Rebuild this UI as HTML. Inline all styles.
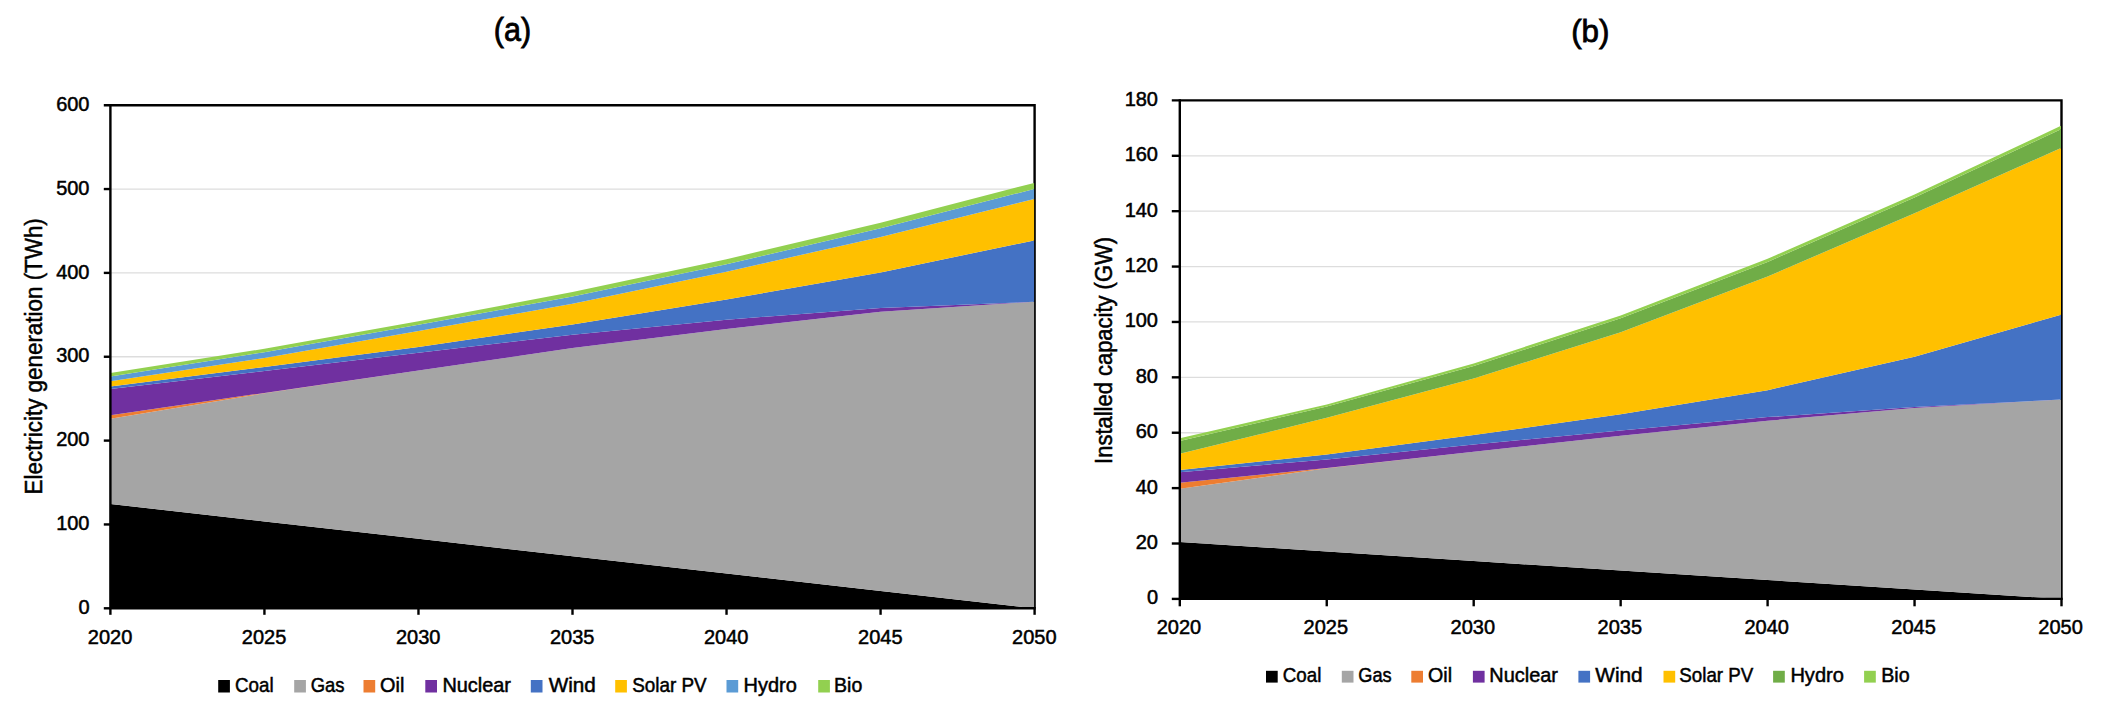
<!DOCTYPE html>
<html lang="en">
<head>
<meta charset="utf-8">
<title>Electricity generation and installed capacity</title>
<style>
html,body{margin:0;padding:0;background:#fff;}
body{width:2104px;height:710px;overflow:hidden;}
svg{display:block;}
</style>
</head>
<body>
<svg width="2104" height="710" viewBox="0 0 2104 710" font-family='"Liberation Sans", sans-serif' fill="#000" stroke="none">
<rect width="2104" height="710" fill="#fff"/>
<line x1="110.4" x2="1034.6" y1="189.05" y2="189.05" stroke="#dddddd" stroke-width="1.3"/>
<line x1="110.4" x2="1034.6" y1="272.90" y2="272.90" stroke="#dddddd" stroke-width="1.3"/>
<line x1="110.4" x2="1034.6" y1="356.75" y2="356.75" stroke="#dddddd" stroke-width="1.3"/>
<line x1="110.4" x2="1034.6" y1="440.60" y2="440.60" stroke="#dddddd" stroke-width="1.3"/>
<line x1="110.4" x2="1034.6" y1="524.45" y2="524.45" stroke="#dddddd" stroke-width="1.3"/>
<path d="M103.8 105.2 H1034.6 V608.3" stroke="#000" stroke-width="2.4" fill="none"/>
<polygon points="110.4,504.0 264.4,521.4 418.5,538.8 572.5,556.2 726.5,573.5 880.6,590.9 1034.1,608.3 1034.1,608.3 880.6,608.3 726.5,608.3 572.5,608.3 418.5,608.3 264.4,608.3 110.4,608.3" fill="#000000"/>
<polygon points="110.4,418.7 264.4,393.3 418.5,370.5 572.5,348.1 726.5,328.9 880.6,311.7 1034.1,301.8 1034.1,608.3 880.6,590.9 726.5,573.5 572.5,556.2 418.5,538.8 264.4,521.4 110.4,504.0" fill="#a5a5a5"/>
<polygon points="110.4,415.2 264.4,392.9 418.5,370.5 572.5,348.1 726.5,328.9 880.6,311.7 1034.1,301.8 1034.1,301.8 880.6,311.7 726.5,328.9 572.5,348.1 418.5,370.5 264.4,393.3 110.4,418.7" fill="#ed7d31"/>
<polygon points="110.4,389.1 264.4,371.0 418.5,352.8 572.5,334.8 726.5,319.7 880.6,308.0 1034.1,301.8 1034.1,301.8 880.6,311.7 726.5,328.9 572.5,348.1 418.5,370.5 264.4,392.9 110.4,415.2" fill="#7030a0"/>
<polygon points="110.4,386.6 264.4,367.0 418.5,346.9 572.5,324.4 726.5,299.5 880.6,272.4 1034.1,240.4 1034.1,301.8 880.6,308.0 726.5,319.7 572.5,334.8 418.5,352.8 264.4,371.0 110.4,389.1" fill="#4472c4"/>
<polygon points="110.4,381.3 264.4,357.9 418.5,331.1 572.5,303.7 726.5,271.7 880.6,237.0 1034.1,199.0 1034.1,240.4 880.6,272.4 726.5,299.5 572.5,324.4 418.5,346.9 264.4,367.0 110.4,386.6" fill="#ffc000"/>
<polygon points="110.4,376.4 264.4,352.2 418.5,324.7 572.5,296.6 726.5,264.2 880.6,228.3 1034.1,189.0 1034.1,199.0 880.6,237.0 726.5,271.7 572.5,303.7 418.5,331.1 264.4,357.9 110.4,381.3" fill="#5b9bd5"/>
<polygon points="110.4,372.9 264.4,348.8 418.5,321.3 572.5,292.1 726.5,259.2 880.6,222.8 1034.1,182.9 1034.1,189.0 880.6,228.3 726.5,264.2 572.5,296.6 418.5,324.7 264.4,352.2 110.4,376.4" fill="#92d050"/>
<g stroke="#000" stroke-width="2.4" fill="none" stroke-linecap="butt">
<path d="M110.4 104.0 V608.3 H1035.8"/>
<line x1="103.8" x2="110.4" y1="189.05" y2="189.05"/>
<line x1="103.8" x2="110.4" y1="272.90" y2="272.90"/>
<line x1="103.8" x2="110.4" y1="356.75" y2="356.75"/>
<line x1="103.8" x2="110.4" y1="440.60" y2="440.60"/>
<line x1="103.8" x2="110.4" y1="524.45" y2="524.45"/>
<line x1="103.8" x2="110.4" y1="608.30" y2="608.30"/>
<line x1="110.40" x2="110.40" y1="608.3" y2="614.8"/>
<line x1="264.43" x2="264.43" y1="608.3" y2="614.8"/>
<line x1="418.47" x2="418.47" y1="608.3" y2="614.8"/>
<line x1="572.50" x2="572.50" y1="608.3" y2="614.8"/>
<line x1="726.53" x2="726.53" y1="608.3" y2="614.8"/>
<line x1="880.57" x2="880.57" y1="608.3" y2="614.8"/>
<line x1="1034.60" x2="1034.60" y1="608.3" y2="614.8"/>
</g>
<text x="89.5" y="110.8" font-size="20" text-anchor="end" stroke="#000" stroke-width="0.5">600</text>
<text x="89.5" y="194.7" font-size="20" text-anchor="end" stroke="#000" stroke-width="0.5">500</text>
<text x="89.5" y="278.5" font-size="20" text-anchor="end" stroke="#000" stroke-width="0.5">400</text>
<text x="89.5" y="362.4" font-size="20" text-anchor="end" stroke="#000" stroke-width="0.5">300</text>
<text x="89.5" y="446.2" font-size="20" text-anchor="end" stroke="#000" stroke-width="0.5">200</text>
<text x="89.5" y="530.1" font-size="20" text-anchor="end" stroke="#000" stroke-width="0.5">100</text>
<text x="89.5" y="613.9" font-size="20" text-anchor="end" stroke="#000" stroke-width="0.5">0</text>
<text x="110.1" y="644.0" font-size="20" text-anchor="middle" stroke="#000" stroke-width="0.5">2020</text>
<text x="264.1" y="644.0" font-size="20" text-anchor="middle" stroke="#000" stroke-width="0.5">2025</text>
<text x="418.2" y="644.0" font-size="20" text-anchor="middle" stroke="#000" stroke-width="0.5">2030</text>
<text x="572.2" y="644.0" font-size="20" text-anchor="middle" stroke="#000" stroke-width="0.5">2035</text>
<text x="726.2" y="644.0" font-size="20" text-anchor="middle" stroke="#000" stroke-width="0.5">2040</text>
<text x="880.3" y="644.0" font-size="20" text-anchor="middle" stroke="#000" stroke-width="0.5">2045</text>
<text x="1034.3" y="644.0" font-size="20" text-anchor="middle" stroke="#000" stroke-width="0.5">2050</text>
<line x1="1179.8" x2="2061.5" y1="155.79" y2="155.79" stroke="#dddddd" stroke-width="1.3"/>
<line x1="1179.8" x2="2061.5" y1="211.18" y2="211.18" stroke="#dddddd" stroke-width="1.3"/>
<line x1="1179.8" x2="2061.5" y1="266.57" y2="266.57" stroke="#dddddd" stroke-width="1.3"/>
<line x1="1179.8" x2="2061.5" y1="321.96" y2="321.96" stroke="#dddddd" stroke-width="1.3"/>
<line x1="1179.8" x2="2061.5" y1="377.34" y2="377.34" stroke="#dddddd" stroke-width="1.3"/>
<line x1="1179.8" x2="2061.5" y1="432.73" y2="432.73" stroke="#dddddd" stroke-width="1.3"/>
<line x1="1179.8" x2="2061.5" y1="488.12" y2="488.12" stroke="#dddddd" stroke-width="1.3"/>
<line x1="1179.8" x2="2061.5" y1="543.51" y2="543.51" stroke="#dddddd" stroke-width="1.3"/>
<path d="M1171.8 100.4 H2061.5 V598.9" stroke="#000" stroke-width="2.4" fill="none"/>
<polygon points="1179.8,542.0 1326.8,551.5 1473.7,561.0 1620.7,570.5 1767.6,580.0 1914.5,589.5 2061.0,598.9 2061.0,598.9 1914.5,598.9 1767.6,598.9 1620.7,598.9 1473.7,598.9 1326.8,598.9 1179.8,598.9" fill="#000000"/>
<polygon points="1179.8,488.8 1326.8,468.2 1473.7,451.8 1620.7,435.7 1767.6,420.7 1914.5,408.0 2061.0,399.5 2061.0,598.9 1914.5,589.5 1767.6,580.0 1620.7,570.5 1473.7,561.0 1326.8,551.5 1179.8,542.0" fill="#a5a5a5"/>
<polygon points="1179.8,482.8 1326.8,468.0 1473.7,451.8 1620.7,435.7 1767.6,420.7 1914.5,408.0 2061.0,399.5 2061.0,399.5 1914.5,408.0 1767.6,420.7 1620.7,435.7 1473.7,451.8 1326.8,468.2 1179.8,488.8" fill="#ed7d31"/>
<polygon points="1179.8,472.2 1326.8,459.4 1473.7,444.5 1620.7,430.4 1767.6,417.1 1914.5,407.1 2061.0,399.5 2061.0,399.5 1914.5,408.0 1767.6,420.7 1620.7,435.7 1473.7,451.8 1326.8,468.0 1179.8,482.8" fill="#7030a0"/>
<polygon points="1179.8,469.9 1326.8,454.4 1473.7,435.1 1620.7,414.3 1767.6,390.2 1914.5,356.7 2061.0,314.8 2061.0,399.5 1914.5,407.1 1767.6,417.1 1620.7,430.4 1473.7,444.5 1326.8,459.4 1179.8,472.2" fill="#4472c4"/>
<polygon points="1179.8,453.7 1326.8,417.8 1473.7,378.4 1620.7,332.3 1767.6,276.5 1914.5,213.2 2061.0,148.0 2061.0,314.8 1914.5,356.7 1767.6,390.2 1620.7,414.3 1473.7,435.1 1326.8,454.4 1179.8,469.9" fill="#ffc000"/>
<polygon points="1179.8,440.9 1326.8,406.6 1473.7,366.1 1620.7,318.2 1767.6,261.9 1914.5,197.6 2061.0,129.2 2061.0,148.0 1914.5,213.2 1767.6,276.5 1620.7,332.3 1473.7,378.4 1326.8,417.8 1179.8,453.7" fill="#70ad47"/>
<polygon points="1179.8,438.3 1326.8,404.4 1473.7,363.5 1620.7,315.5 1767.6,258.8 1914.5,194.4 2061.0,125.8 2061.0,129.2 1914.5,197.6 1767.6,261.9 1620.7,318.2 1473.7,366.1 1326.8,406.6 1179.8,440.9" fill="#92d050"/>
<g stroke="#000" stroke-width="2.4" fill="none" stroke-linecap="butt">
<path d="M1179.8 99.2 V598.9 H2062.7"/>
<line x1="1171.8" x2="1179.8" y1="155.79" y2="155.79"/>
<line x1="1171.8" x2="1179.8" y1="211.18" y2="211.18"/>
<line x1="1171.8" x2="1179.8" y1="266.57" y2="266.57"/>
<line x1="1171.8" x2="1179.8" y1="321.96" y2="321.96"/>
<line x1="1171.8" x2="1179.8" y1="377.34" y2="377.34"/>
<line x1="1171.8" x2="1179.8" y1="432.73" y2="432.73"/>
<line x1="1171.8" x2="1179.8" y1="488.12" y2="488.12"/>
<line x1="1171.8" x2="1179.8" y1="543.51" y2="543.51"/>
<line x1="1171.8" x2="1179.8" y1="598.90" y2="598.90"/>
<line x1="1179.80" x2="1179.80" y1="598.9" y2="606.3"/>
<line x1="1326.75" x2="1326.75" y1="598.9" y2="606.3"/>
<line x1="1473.70" x2="1473.70" y1="598.9" y2="606.3"/>
<line x1="1620.65" x2="1620.65" y1="598.9" y2="606.3"/>
<line x1="1767.60" x2="1767.60" y1="598.9" y2="606.3"/>
<line x1="1914.55" x2="1914.55" y1="598.9" y2="606.3"/>
<line x1="2061.50" x2="2061.50" y1="598.9" y2="606.3"/>
</g>
<text x="1158.0" y="105.8" font-size="20" text-anchor="end" stroke="#000" stroke-width="0.5">180</text>
<text x="1158.0" y="161.2" font-size="20" text-anchor="end" stroke="#000" stroke-width="0.5">160</text>
<text x="1158.0" y="216.6" font-size="20" text-anchor="end" stroke="#000" stroke-width="0.5">140</text>
<text x="1158.0" y="272.0" font-size="20" text-anchor="end" stroke="#000" stroke-width="0.5">120</text>
<text x="1158.0" y="327.4" font-size="20" text-anchor="end" stroke="#000" stroke-width="0.5">100</text>
<text x="1158.0" y="382.7" font-size="20" text-anchor="end" stroke="#000" stroke-width="0.5">80</text>
<text x="1158.0" y="438.1" font-size="20" text-anchor="end" stroke="#000" stroke-width="0.5">60</text>
<text x="1158.0" y="493.5" font-size="20" text-anchor="end" stroke="#000" stroke-width="0.5">40</text>
<text x="1158.0" y="548.9" font-size="20" text-anchor="end" stroke="#000" stroke-width="0.5">20</text>
<text x="1158.0" y="604.3" font-size="20" text-anchor="end" stroke="#000" stroke-width="0.5">0</text>
<text x="1178.9" y="633.5" font-size="20" text-anchor="middle" stroke="#000" stroke-width="0.5">2020</text>
<text x="1325.8" y="633.5" font-size="20" text-anchor="middle" stroke="#000" stroke-width="0.5">2025</text>
<text x="1472.8" y="633.5" font-size="20" text-anchor="middle" stroke="#000" stroke-width="0.5">2030</text>
<text x="1619.8" y="633.5" font-size="20" text-anchor="middle" stroke="#000" stroke-width="0.5">2035</text>
<text x="1766.7" y="633.5" font-size="20" text-anchor="middle" stroke="#000" stroke-width="0.5">2040</text>
<text x="1913.6" y="633.5" font-size="20" text-anchor="middle" stroke="#000" stroke-width="0.5">2045</text>
<text x="2060.6" y="633.5" font-size="20" text-anchor="middle" stroke="#000" stroke-width="0.5">2050</text>
<text x="512.5" y="41.2" font-size="32.6" text-anchor="middle" stroke="#000" stroke-width="0.8" textLength="37.3" lengthAdjust="spacingAndGlyphs">(a)</text>
<text x="1590.3" y="41.8" font-size="32" text-anchor="middle" stroke="#000" stroke-width="0.8" textLength="38.3" lengthAdjust="spacingAndGlyphs">(b)</text>
<text transform="translate(41.8 494.4) rotate(-90)" font-size="23" stroke="#000" stroke-width="0.5" textLength="276.2" lengthAdjust="spacingAndGlyphs">Electricity generation (TWh)</text>
<text transform="translate(1111.6 463.9) rotate(-90)" font-size="23" stroke="#000" stroke-width="0.5" textLength="226.9" lengthAdjust="spacingAndGlyphs">Installed capacity (GW)</text>
<rect x="218.2" y="680.0" width="11.7" height="12.5" fill="#000000"/>
<text x="235.0" y="691.5" font-size="20.6" text-anchor="start" stroke="#000" stroke-width="0.5" textLength="38.6" lengthAdjust="spacingAndGlyphs">Coal</text>
<rect x="294.2" y="680.0" width="11.7" height="12.5" fill="#a5a5a5"/>
<text x="310.7" y="691.5" font-size="20.6" text-anchor="start" stroke="#000" stroke-width="0.5" textLength="33.8" lengthAdjust="spacingAndGlyphs">Gas</text>
<rect x="363.5" y="680.0" width="11.7" height="12.5" fill="#ed7d31"/>
<text x="380.1" y="691.5" font-size="20.6" text-anchor="start" stroke="#000" stroke-width="0.5" textLength="24.3" lengthAdjust="spacingAndGlyphs">Oil</text>
<rect x="425.3" y="680.0" width="11.7" height="12.5" fill="#7030a0"/>
<text x="442.4" y="691.5" font-size="20.6" text-anchor="start" stroke="#000" stroke-width="0.5" textLength="68.6" lengthAdjust="spacingAndGlyphs">Nuclear</text>
<rect x="530.8" y="680.0" width="11.7" height="12.5" fill="#4472c4"/>
<text x="548.7" y="691.5" font-size="20.6" text-anchor="start" stroke="#000" stroke-width="0.5" textLength="47.2" lengthAdjust="spacingAndGlyphs">Wind</text>
<rect x="615.2" y="680.0" width="11.7" height="12.5" fill="#ffc000"/>
<text x="632.2" y="691.5" font-size="20.6" text-anchor="start" stroke="#000" stroke-width="0.5" textLength="74.5" lengthAdjust="spacingAndGlyphs">Solar PV</text>
<rect x="726.5" y="680.0" width="11.7" height="12.5" fill="#5b9bd5"/>
<text x="743.6" y="691.5" font-size="20.6" text-anchor="start" stroke="#000" stroke-width="0.5" textLength="53.3" lengthAdjust="spacingAndGlyphs">Hydro</text>
<rect x="818.2" y="680.0" width="11.7" height="12.5" fill="#92d050"/>
<text x="834.1" y="691.5" font-size="20.6" text-anchor="start" stroke="#000" stroke-width="0.5" textLength="28.2" lengthAdjust="spacingAndGlyphs">Bio</text>
<rect x="1266.0" y="670.8" width="11.7" height="11.8" fill="#000000"/>
<text x="1282.8" y="682.3" font-size="20.6" text-anchor="start" stroke="#000" stroke-width="0.5" textLength="38.5" lengthAdjust="spacingAndGlyphs">Coal</text>
<rect x="1341.8" y="670.8" width="11.7" height="11.8" fill="#a5a5a5"/>
<text x="1358.3" y="682.3" font-size="20.6" text-anchor="start" stroke="#000" stroke-width="0.5" textLength="33.4" lengthAdjust="spacingAndGlyphs">Gas</text>
<rect x="1411.3" y="670.8" width="11.7" height="11.8" fill="#ed7d31"/>
<text x="1428.0" y="682.3" font-size="20.6" text-anchor="start" stroke="#000" stroke-width="0.5" textLength="24.0" lengthAdjust="spacingAndGlyphs">Oil</text>
<rect x="1472.9" y="670.8" width="11.7" height="11.8" fill="#7030a0"/>
<text x="1489.3" y="682.3" font-size="20.6" text-anchor="start" stroke="#000" stroke-width="0.5" textLength="68.7" lengthAdjust="spacingAndGlyphs">Nuclear</text>
<rect x="1578.4" y="670.8" width="11.7" height="11.8" fill="#4472c4"/>
<text x="1595.3" y="682.3" font-size="20.6" text-anchor="start" stroke="#000" stroke-width="0.5" textLength="47.4" lengthAdjust="spacingAndGlyphs">Wind</text>
<rect x="1663.5" y="670.8" width="11.7" height="11.8" fill="#ffc000"/>
<text x="1679.3" y="682.3" font-size="20.6" text-anchor="start" stroke="#000" stroke-width="0.5" textLength="74.0" lengthAdjust="spacingAndGlyphs">Solar PV</text>
<rect x="1773.1" y="670.8" width="11.7" height="11.8" fill="#70ad47"/>
<text x="1790.4" y="682.3" font-size="20.6" text-anchor="start" stroke="#000" stroke-width="0.5" textLength="53.5" lengthAdjust="spacingAndGlyphs">Hydro</text>
<rect x="1864.1" y="670.8" width="11.7" height="11.8" fill="#92d050"/>
<text x="1881.2" y="682.3" font-size="20.6" text-anchor="start" stroke="#000" stroke-width="0.5" textLength="28.4" lengthAdjust="spacingAndGlyphs">Bio</text>
</svg>
</body>
</html>
